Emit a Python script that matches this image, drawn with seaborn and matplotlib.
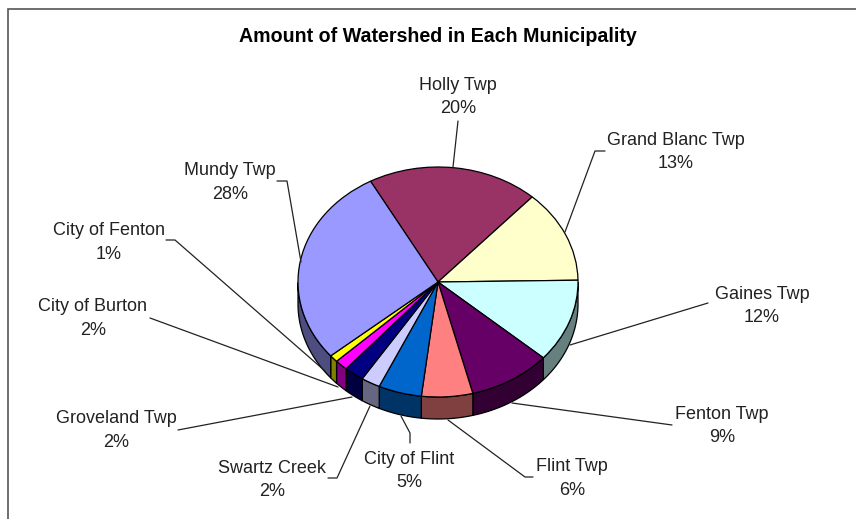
import numpy as np
import matplotlib
matplotlib.use('Agg')
import matplotlib.pyplot as plt
import seaborn as sns

sns.set_theme(style='white')
plt.rcParams['font.family'] = ['Liberation Sans', 'DejaVu Sans']

# Values, clockwise from Holly Twp
names = ['Holly Twp', 'Grand Blanc Twp', 'Gaines Twp', 'Fenton Twp', 'Flint Twp', 'City of Flint',
         'Swartz Creek', 'Groveland Twp', 'City of Burton', 'City of Fenton', 'Mundy Twp']
shares = [19.75, 13.0, 11.7, 9.55, 5.9, 5.0, 2.2, 2.3, 1.5, 1.0, 28.1]
percents = ['20%', '13%', '12%', '9%', '6%', '5%', '2%', '2%', '2%', '1%', '28%']
colors = ['#993366', '#FFFFCC', '#CCFFFF', '#660066', '#FF8080', '#0066CC',
          '#CCCCFF', '#000080', '#FF00FF', '#FFFF00', '#9999FF']

# Label centres in pixels, and leader lines
label_pos = [(458, 97), (676, 152), (762, 306), (722, 426), (572, 478.5), (409, 471),
             (272, 480), (116, 430.5), (93, 318.5), (109, 242.5), (230, 182.5)]
leaders = [[(458, 121), (453, 167)],
           [(605, 151), (595, 151), (565, 232)],
           [(708, 303), (570, 345)],
           [(672, 425), (512, 403)],
           [(533, 477), (525, 477), (448, 420)],
           [(410, 443), (410, 433), (401, 416)],
           [(328, 478), (337, 478), (370, 406)],
           [(178, 430), (352, 397)],
           [(150, 318), (338, 387)],
           [(166, 240), (175, 240), (325, 371)],
           [(277, 181), (287, 181), (301, 262)]]

W, H = 856, 519
cx, cy, rx, ry, depth = 438, 282, 140, 115, 22
top_angle = 90 + 28.8

fig = plt.figure(figsize=(W / 100, H / 100), dpi=100, facecolor='white')

ax = fig.add_axes([0, 0, 1, 1])
wedges, _ = ax.pie(shares, colors=colors, startangle=top_angle, counterclock=False,
                   wedgeprops=dict(edgecolor='black', linewidth=0.9), radius=1)
ax.set_aspect('auto')
ax.set_xlim(-cx / rx, (W - cx) / rx)
ax.set_ylim(-(H - cy) / ry, cy / ry)

# Side wall of the 3D pie
d = depth / ry
edges = top_angle - np.cumsum([0] + shares) * 3.6
for i, col in enumerate(colors):
    t = np.radians(np.linspace(edges[i + 1], edges[i], 80))
    t = t[np.sin(t) <= 0]
    if len(t) < 2:
        continue
    dark = tuple(np.array(matplotlib.colors.to_rgb(col)) * 0.5)
    xs = np.r_[np.cos(t), np.cos(t[::-1])]
    ys = np.r_[np.sin(t), np.sin(t[::-1]) - d]
    ax.fill(xs, ys, facecolor=dark, edgecolor='black', linewidth=0.9, zorder=0)

# Overlay in pixels: frame, title, labels, leaders
over = fig.add_axes([0, 0, 1, 1], facecolor='none')
over.set_xlim(0, W)
over.set_ylim(H, 0)
over.axis('off')
over.plot([8, 8, W], [H, 9, 9], color='#555555', lw=1.2, solid_joinstyle='miter')
over.text(438, 37, 'Amount of Watershed in Each Municipality', ha='center', va='center',
          fontsize=14.1, fontweight='bold', color='black')
for name, pct, (x, y) in zip(names, percents, label_pos):
    over.text(x, y, name + '\n' + pct, ha='center', va='center', fontsize=13,
              color='#222222', linespacing=1.5)
for line in leaders:
    xs, ys = zip(*line)
    over.plot(xs, ys, color='#222222', lw=0.9)

fig.savefig('out.png', dpi=100)
